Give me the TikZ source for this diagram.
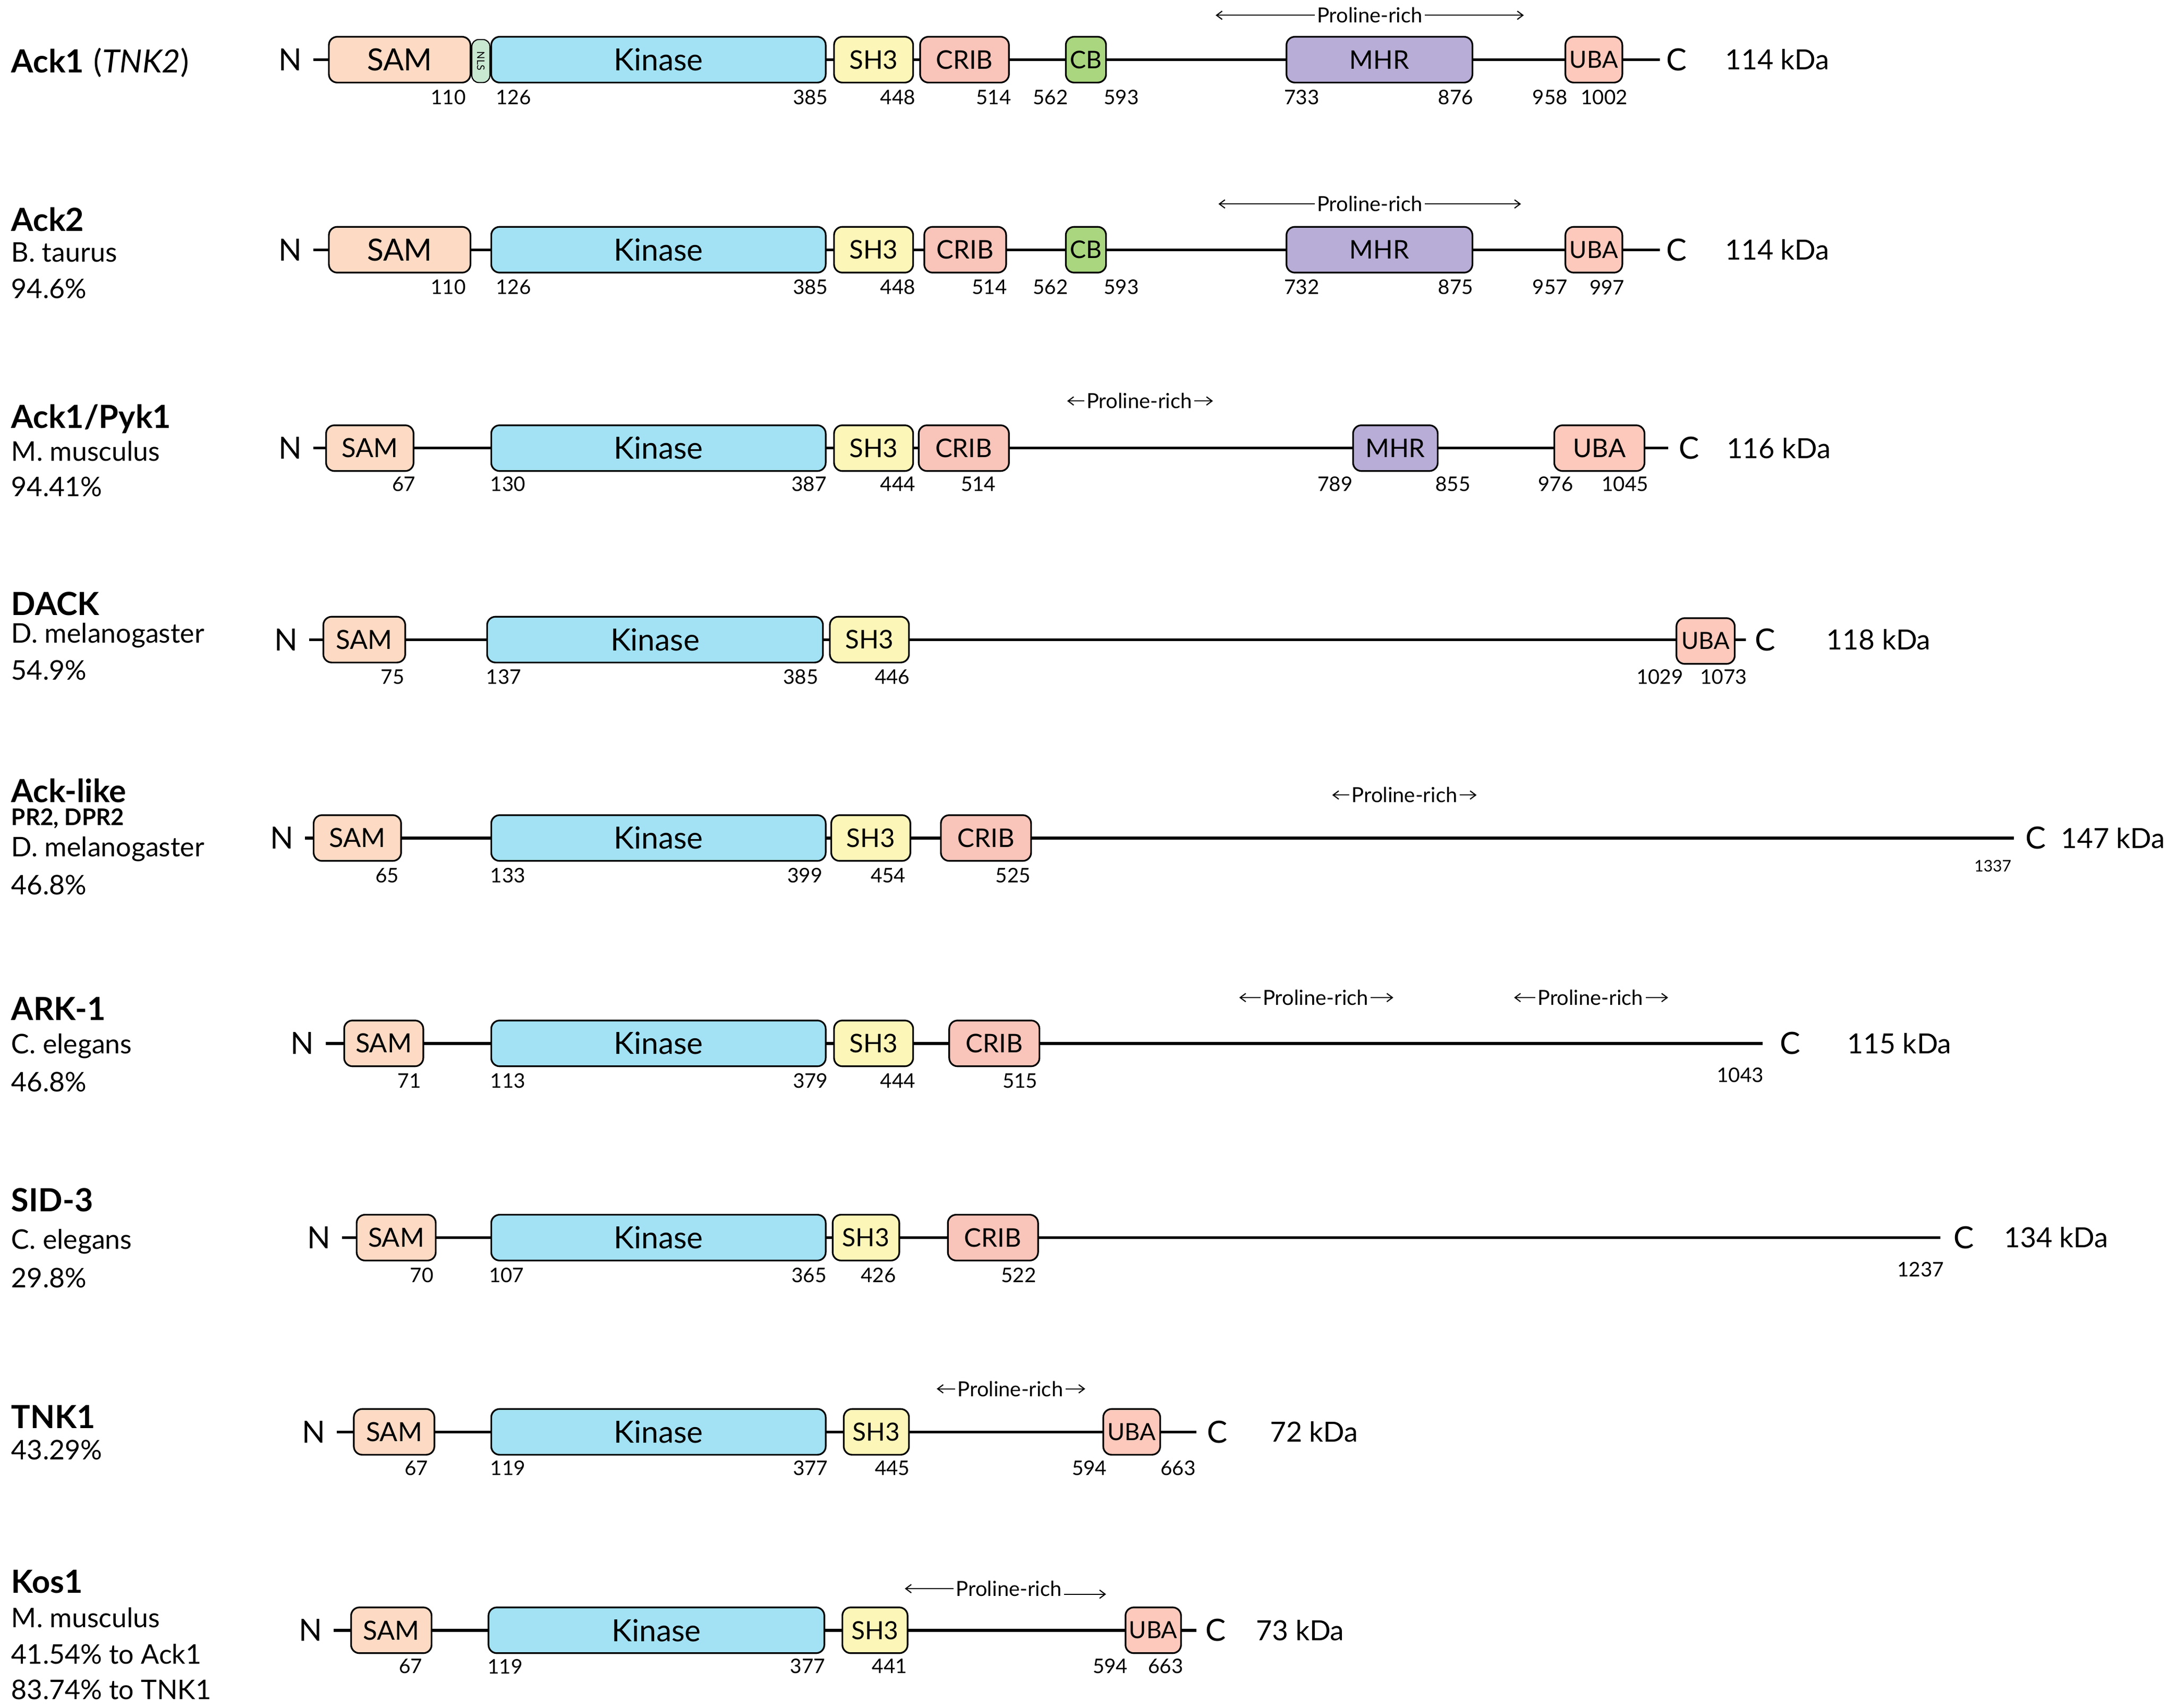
\documentclass[tikz,border=0pt]{standalone}
\usepackage{fontspec}
\setmainfont{Lato}
\usetikzlibrary{arrows.meta}
\definecolor{samc}{HTML}{FDDAC4}
\definecolor{kinc}{HTML}{A2E2F4}
\definecolor{sh3c}{HTML}{FCF6B9}
\definecolor{cribc}{HTML}{F9C4B9}
\definecolor{cbc}{HTML}{A9D67F}
\definecolor{mhrc}{HTML}{B8ADD6}
\definecolor{ubac}{HTML}{FCC9BC}
\definecolor{nlsc}{HTML}{C9E8D2}
\tikzset{
  dom/.style={draw=black, line width=1.2pt, rounded corners=6pt, minimum height=33pt, inner sep=0pt},
  backbone/.style={line width=2pt, draw=black},
  numl/.style={inner sep=0pt, font=\fontsize{14.5}{15}\selectfont},
  smallnum/.style={inner sep=0pt, font=\fontsize{11.5}{12}\selectfont},
  endl/.style={inner sep=0pt, font=\fontsize{22}{24}\selectfont},
  kda/.style={inner sep=0pt, anchor=west, font=\fontsize{20}{22}\selectfont},
  title/.style={inner sep=0pt, anchor=west, font=\fontsize{23}{25}\selectfont\bfseries},
  subtitle/.style={inner sep=0pt, anchor=west, font=\fontsize{16.5}{17}\selectfont\bfseries},
  spec/.style={inner sep=0pt, anchor=west, font=\fontsize{19.5}{21}\selectfont},
  protxt/.style={inner sep=1.5pt, font=\fontsize{15}{16}\selectfont},
  parrow/.style={line width=0.8pt, -{Straight Barb[length=4pt,width=6pt]}},
}
% name, x1, x2, y, colour, font size, text
\newcommand\dombox[7]{\node[dom, fill=#5, minimum width={(#3-#2)*1pt}, font=\fontsize{#6}{#6}\selectfont] (#1) at ({(#2+#3)/2},#4) {#7};}
\newcommand\resno[4]{\node[numl] (#1) at (#2,#3) {#4};}
% name, xleft, xcentre, xright, y
\newcommand\prich[5]{%
  \node[protxt] (#1) at (#3,#5) {Proline-rich};
  \coordinate (#1-l) at (#2,#5);
  \coordinate (#1-r) at (#4,#5);
  \draw[parrow] (#1.west) -- (#1-l);
  \draw[parrow] (#1.east) -- (#1-r);}
\begin{document}
\begin{tikzpicture}[x=1pt,y=-1pt]
\useasboundingbox (0,0) rectangle (1568,1231);

% ---------------- Row 1: Ack1 ----------------
\node[title] (t1) at (8,45) {Ack1\hspace{7pt}\mdseries(\textit{TNK2})};
\node[endl] (N1) at (209,43) {N};
\coordinate (e1) at (1196,43);
\draw[backbone] ([xshift=8pt]N1.east) -- (e1);
\dombox{r1sam}{237}{339}{43}{samc}{22}{SAM}
\node[draw=black, line width=0.8pt, fill=nlsc, rounded corners=5pt, rotate=-90, minimum width=31pt, minimum height=13pt, inner sep=0pt, font=\fontsize{7.5}{7.5}\selectfont] (r1nls) at (346.5,44) {NLS};
\dombox{r1kin}{354}{595}{43}{kinc}{22}{Kinase}
\dombox{r1sh3}{601}{658}{43}{sh3c}{18.5}{SH3}
\dombox{r1crib}{663}{727}{43}{cribc}{18.5}{CRIB}
\dombox{r1cb}{768}{797}{43}{cbc}{17.5}{CB}
\dombox{r1mhr}{927}{1061}{43}{mhrc}{18.5}{MHR}
\dombox{r1uba}{1128}{1169}{43}{ubac}{17}{UBA}
\node[endl] (C1) at (1208,43) {C};
\node[kda] (k1) at (1243,43) {114 kDa};
\prich{p1}{876}{987}{1098}{11}
\resno{n1a}{323}{70}{110}
\resno{n1b}{370}{70}{126}
\resno{n1c}{584}{70}{385}
\resno{n1d}{647}{70}{448}
\resno{n1e}{716}{70}{514}
\resno{n1f}{757}{70}{562}
\resno{n1g}{808}{70}{593}
\resno{n1h}{938}{70}{733}
\resno{n1i}{1049}{70}{876}
\resno{n1j}{1117}{70}{958}
\resno{n1k}{1156}{70}{1002}

% ---------------- Row 2: Ack2 ----------------
\node[title] (t2) at (8,158) {Ack2};
\node[spec] (s2a) at (8,182) {B. taurus};
\node[spec] (s2b) at (8,208) {94.6\%};
\node[endl] (N2) at (209,180) {N};
\coordinate (e2) at (1196,180);
\draw[backbone] ([xshift=8pt]N2.east) -- (e2);
\dombox{r2sam}{237}{339}{180}{samc}{22}{SAM}
\dombox{r2kin}{354}{595}{180}{kinc}{22}{Kinase}
\dombox{r2sh3}{601}{658}{180}{sh3c}{18.5}{SH3}
\dombox{r2crib}{666}{725}{180}{cribc}{18.5}{CRIB}
\dombox{r2cb}{768}{797}{180}{cbc}{17.5}{CB}
\dombox{r2mhr}{927}{1061}{180}{mhrc}{18.5}{MHR}
\dombox{r2uba}{1128}{1169}{180}{ubac}{17}{UBA}
\node[endl] (C2) at (1208,180) {C};
\node[kda] (k2) at (1243,180) {114 kDa};
\prich{p2}{878}{987}{1096}{147}
\resno{n2a}{323}{207}{110}
\resno{n2b}{370}{207}{126}
\resno{n2c}{584}{207}{385}
\resno{n2d}{647}{207}{448}
\resno{n2e}{713}{207}{514}
\resno{n2f}{757}{207}{562}
\resno{n2g}{808}{207}{593}
\resno{n2h}{938}{207}{732}
\resno{n2i}{1049}{207}{875}
\resno{n2j}{1117}{207}{957}
\resno{n2k}{1158}{207}{997}

% ---------------- Row 3: Ack1/Pyk1 ----------------
\node[title] (t3) at (8,302) {Ack1/Pyk1};
\node[spec] (s3a) at (8,325) {M. musculus};
\node[spec] (s3b) at (8,351) {94.41\%};
\node[endl] (N3) at (209,323) {N};
\coordinate (e3) at (1202,323);
\draw[backbone] ([xshift=8pt]N3.east) -- (e3);
\dombox{r3sam}{235}{298}{323}{samc}{19}{SAM}
\dombox{r3kin}{354}{595}{323}{kinc}{22}{Kinase}
\dombox{r3sh3}{601}{658}{323}{sh3c}{18.5}{SH3}
\dombox{r3crib}{662}{727}{323}{cribc}{18.5}{CRIB}
\dombox{r3mhr}{975}{1036}{323}{mhrc}{18.5}{MHR}
\dombox{r3uba}{1120}{1185}{323}{ubac}{18.5}{UBA}
\node[endl] (C3) at (1217,323) {C};
\node[kda] (k3) at (1244,323) {116 kDa};
\prich{p3}{769}{821}{874}{289}
\resno{n3a}{291}{349}{67}
\resno{n3b}{366}{349}{130}
\resno{n3c}{583}{349}{387}
\resno{n3d}{647}{349}{444}
\resno{n3e}{705}{349}{514}
\resno{n3f}{962}{349}{789}
\resno{n3g}{1047}{349}{855}
\resno{n3h}{1121}{349}{976}
\resno{n3i}{1171}{349}{1045}

% ---------------- Row 4: DACK ----------------
\node[title] (t4) at (8,435) {DACK};
\node[spec] (s4a) at (8,458) {D. melanogaster};
\node[spec] (s4b) at (8,483) {54.9\%};
\node[endl] (N4) at (206,461) {N};
\coordinate (e4) at (1258,461);
\draw[backbone] ([xshift=8pt]N4.east) -- (e4);
\dombox{r4sam}{233}{292}{461}{samc}{19}{SAM}
\dombox{r4kin}{351}{593}{461}{kinc}{22}{Kinase}
\dombox{r4sh3}{598}{655}{461}{sh3c}{18.5}{SH3}
\dombox{r4uba}{1208}{1250}{462}{ubac}{17}{UBA}
\node[endl] (C4) at (1272,461) {C};
\node[kda] (k4) at (1316,461) {118 kDa};
\resno{n4a}{283}{488}{75}
\resno{n4b}{363}{488}{137}
\resno{n4c}{577}{488}{385}
\resno{n4d}{643}{488}{446}
\resno{n4e}{1196}{488}{1029}
\resno{n4f}{1242}{488}{1073}

% ---------------- Row 5: Ack-like ----------------
\node[title] (t5) at (8,570) {Ack-like};
\node[subtitle] (t5b) at (8,590) {PR2, DPR2};
\node[spec] (s5a) at (8,612) {D. melanogaster};
\node[spec] (s5b) at (8,638) {46.8\%};
\node[endl] (N5) at (203,604) {N};
\coordinate (e5) at (1451,604);
\draw[backbone] ([xshift=8pt]N5.east) -- (e5);
\dombox{r5sam}{226}{289}{604}{samc}{19}{SAM}
\dombox{r5kin}{354}{595}{604}{kinc}{22}{Kinase}
\dombox{r5sh3}{599}{656}{604}{sh3c}{18.5}{SH3}
\dombox{r5crib}{678}{743}{604}{cribc}{18.5}{CRIB}
\node[endl] (C5) at (1467,604) {C};
\node[kda] (k5) at (1485,604) {147 kDa};
\node[smallnum] (n5z) at (1436,624) {1337};
\prich{p5}{960}{1012}{1064}{573}
\resno{n5a}{279}{631}{65}
\resno{n5b}{366}{631}{133}
\resno{n5c}{580}{631}{399}
\resno{n5d}{640}{631}{454}
\resno{n5e}{730}{631}{525}

% ---------------- Row 6: ARK-1 ----------------
\node[title] (t6) at (8,727) {ARK-1};
\node[spec] (s6a) at (8,754) {C. elegans};
\node[spec] (s6b) at (8,780) {46.8\%};
\node[endl] (N6) at (218,752) {N};
\coordinate (e6) at (1270,752);
\draw[backbone] ([xshift=8pt]N6.east) -- (e6);
\dombox{r6sam}{248}{305}{752}{samc}{19}{SAM}
\dombox{r6kin}{354}{595}{752}{kinc}{22}{Kinase}
\dombox{r6sh3}{601}{658}{752}{sh3c}{18.5}{SH3}
\dombox{r6crib}{684}{749}{752}{cribc}{18.5}{CRIB}
\node[endl] (C6) at (1290,752) {C};
\node[kda] (k6) at (1331,752) {115 kDa};
\resno{n6z}{1254}{775}{1043}
\prich{p6a}{893}{948}{1004}{719}
\prich{p6b}{1091}{1146}{1202}{719}
\resno{n6a}{295}{779}{71}
\resno{n6b}{366}{779}{113}
\resno{n6c}{584}{779}{379}
\resno{n6d}{647}{779}{444}
\resno{n6e}{735}{779}{515}

% ---------------- Row 7: SID-3 ----------------
\node[title] (t7) at (8,865) {SID-3};
\node[spec] (s7a) at (8,895) {C. elegans};
\node[spec] (s7b) at (8,921) {29.8\%};
\node[endl] (N7) at (230,892) {N};
\coordinate (e7) at (1398,892);
\draw[backbone] ([xshift=8pt]N7.east) -- (e7);
\dombox{r7sam}{257}{314}{892}{samc}{19}{SAM}
\dombox{r7kin}{354}{595}{892}{kinc}{22}{Kinase}
\dombox{r7sh3}{600}{648}{892}{sh3c}{18}{SH3}
\dombox{r7crib}{683}{748}{892}{cribc}{18.5}{CRIB}
\node[endl] (C7) at (1415,892) {C};
\node[kda] (k7) at (1444,892) {134 kDa};
\resno{n7z}{1384}{915}{1237}
\resno{n7a}{304}{919}{70}
\resno{n7b}{365}{919}{107}
\resno{n7c}{583}{919}{365}
\resno{n7d}{633}{919}{426}
\resno{n7e}{734}{919}{522}

% ---------------- Row 8: TNK1 ----------------
\node[title] (t8) at (8,1021) {TNK1};
\node[spec] (s8a) at (8,1045) {43.29\%};
\node[endl] (N8) at (226,1032) {N};
\coordinate (e8) at (862,1032);
\draw[backbone] ([xshift=8pt]N8.east) -- (e8);
\dombox{r8sam}{255}{313}{1032}{samc}{19}{SAM}
\dombox{r8kin}{354}{595}{1032}{kinc}{22}{Kinase}
\dombox{r8sh3}{608}{655}{1032}{sh3c}{18}{SH3}
\dombox{r8uba}{795}{836}{1032}{ubac}{17}{UBA}
\node[endl] (C8) at (877,1032) {C};
\node[kda] (k8) at (915,1032) {72 kDa};
\prich{p8}{675}{728}{782}{1001}
\resno{n8a}{300}{1058}{67}
\resno{n8b}{366}{1058}{119}
\resno{n8c}{584}{1058}{377}
\resno{n8d}{643}{1058}{445}
\resno{n8e}{785}{1058}{594}
\resno{n8f}{849}{1058}{663}

% ---------------- Row 9: Kos1 ----------------
\node[title] (t9) at (8,1140) {Kos1};
\node[spec] (s9a) at (8,1166) {M. musculus};
\node[spec] (s9b) at (8,1192) {41.54\% to Ack1};
\node[spec] (s9c) at (8,1218) {83.74\% to TNK1};
\node[endl] (N9) at (224,1175) {N};
\coordinate (e9) at (862,1175);
\draw[backbone] ([xshift=8pt]N9.east) -- (e9);
\dombox{r9sam}{253}{311}{1175}{samc}{19}{SAM}
\dombox{r9kin}{352}{594}{1175}{kinc}{22}{Kinase}
\dombox{r9sh3}{607}{654}{1175}{sh3c}{18}{SH3}
\dombox{r9uba}{811}{851}{1175}{ubac}{17}{UBA}
\node[endl] (C9) at (876,1175) {C};
\node[kda] (k9) at (905,1175) {73 kDa};
\node[protxt] (p9) at (727,1145) {Proline-rich};
\coordinate (p9-l) at (652,1145);
\coordinate (p9-r) at (797,1149);
\draw[parrow] (p9.west) -- (p9-l);
\draw[parrow] ([yshift=-4pt]p9.east) -- (p9-r);
\resno{n9a}{296}{1201}{67}
\resno{n9b}{364}{1201}{119}
\resno{n9c}{582}{1201}{377}
\resno{n9d}{641}{1201}{441}
\resno{n9e}{800}{1201}{594}
\resno{n9f}{840}{1201}{663}
\end{tikzpicture}
\end{document}
